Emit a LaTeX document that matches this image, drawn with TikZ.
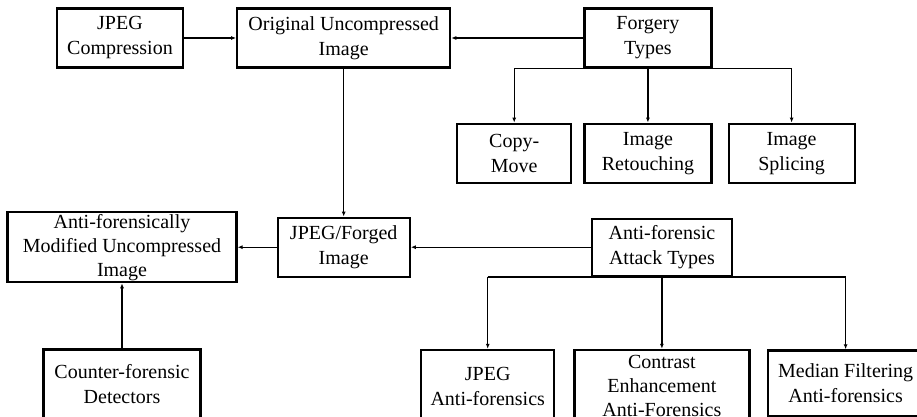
\documentclass[tikz,border=0pt]{standalone}
\usepackage{fontspec}
\setmainfont{Liberation Serif}
\usetikzlibrary{arrows.meta, positioning}

\begin{document}
\begin{tikzpicture}[
    x=1pt, y=-1pt,
    box/.style={rectangle, draw=black, line width=2.2pt, minimum height=59pt, align=center, inner sep=1pt, font=\fontsize{20}{25}\selectfont},
    tight/.style={font=\fontsize{20}{24}\selectfont},
    arrow/.style={-{Latex[length=5pt, width=4pt]}, line width=1.4pt},
    link/.style={line width=1.4pt}
]
    \useasboundingbox (0,0) rectangle (917,417);

    % Top row
    \node[box, minimum width=126pt] (jpegcomp) at (120,38) {JPEG\\Compression};
    \node[box, minimum width=213pt, right=52pt of jpegcomp] (original) {Original Uncompressed\\Image};
    \node[box, minimum width=127pt, right=132pt of original] (forgery) {Forgery\\Types};

    % Forgery types
    \node[box, minimum width=127pt, below=54pt of forgery] (retouch) {Image\\Retouching};
    \node[box, minimum width=114pt, left=11pt of retouch] (copymove) {Copy-\\Move};
    \node[box, minimum width=126pt, right=15pt of retouch] (splice) {Image\\Splicing};

    % Middle row
    \node[box, minimum width=132pt, below=148pt of original] (forged) {JPEG/Forged\\Image};
    \node[box, tight, minimum width=229pt, minimum height=70pt, left=39pt of forged] (antimod) {Anti-forensically\\Modified Uncompressed\\Image};
    \node[box, minimum width=140pt, minimum height=57pt, right=180pt of forged] (attack) {Anti-forensic\\Attack Types};

    % Bottom row
    \node[box, minimum width=157pt, minimum height=69pt, below=65pt of antimod] (counter) {Counter-forensic\\Detectors};
    \node[box, tight, minimum width=175pt, minimum height=73pt, below=72pt of attack] (contrast) {Contrast\\Enhancement\\Anti-Forensics};
    \node[box, minimum width=133pt, minimum height=73pt, left=18pt of contrast] (jpeganti) {JPEG\\Anti-forensics};
    \node[box, minimum width=156pt, minimum height=66pt, right=16pt of contrast, yshift=3pt] (median) {Median Filtering\\Anti-forensics};

    % Arrows
    \draw[arrow] (jpegcomp) -- (original);
    \draw[arrow] (forgery) -- (original);
    \draw[arrow] (original) -- (forged);
    \draw[arrow] (forged) -- (antimod);
    \draw[arrow] (attack) -- (forged);
    \draw[arrow] (counter) -- (antimod);

    % Forgery branches
    \draw[link] (copymove.north |- forgery.south) -- (splice.north |- forgery.south);
    \draw[arrow] (copymove.north |- forgery.south) -- (copymove.north);
    \draw[arrow] (forgery.south) -- (retouch.north);
    \draw[arrow] (splice.north |- forgery.south) -- (splice.north);

    % Attack branches
    \draw[link] (jpeganti.north |- attack.south) -- (median.north |- attack.south);
    \draw[arrow] (jpeganti.north |- attack.south) -- (jpeganti.north);
    \draw[arrow] (contrast.north |- attack.south) -- (contrast.north);
    \draw[arrow] (median.north |- attack.south) -- (median.north);
\end{tikzpicture}
\end{document}
